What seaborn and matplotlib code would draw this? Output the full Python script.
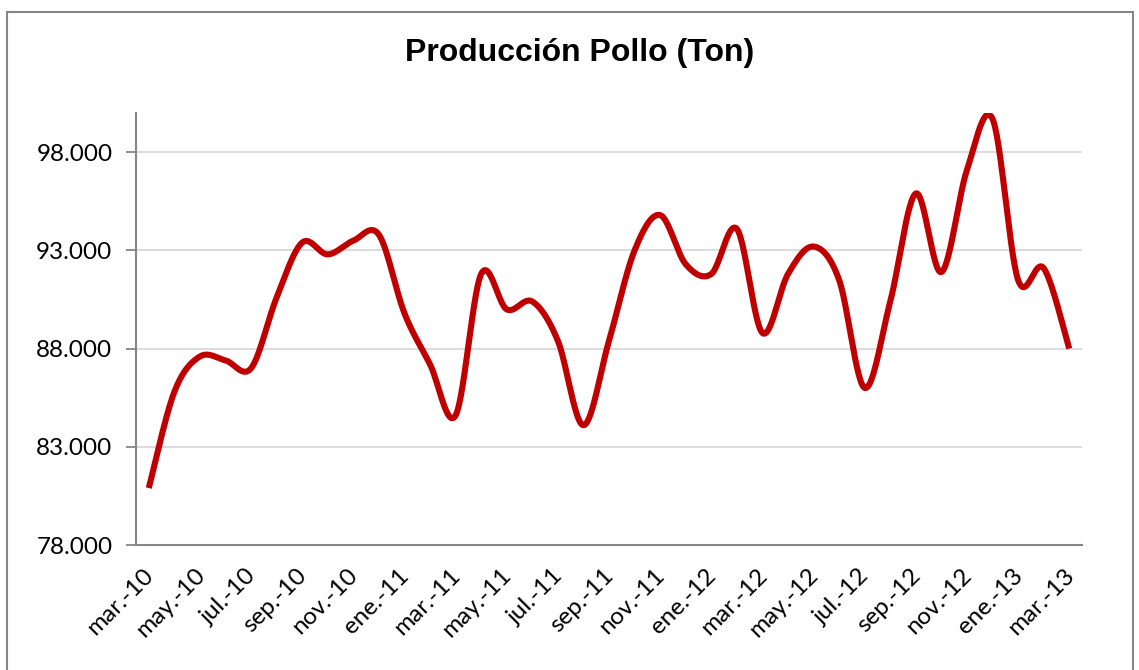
import numpy as np
import pandas as pd
import matplotlib
matplotlib.use("Agg")
import matplotlib.pyplot as plt
import seaborn as sns
from matplotlib.ticker import FuncFormatter, FixedLocator
from matplotlib.patches import Rectangle
from matplotlib.transforms import ScaledTranslation

# ---- data ----
months = ["mar.-10", "abr.-10", "may.-10", "jun.-10", "jul.-10", "ago.-10", "sep.-10", "oct.-10",
          "nov.-10", "dic.-10", "ene.-11", "feb.-11", "mar.-11", "abr.-11", "may.-11", "jun.-11",
          "jul.-11", "ago.-11", "sep.-11", "oct.-11", "nov.-11", "dic.-11", "ene.-12", "feb.-12",
          "mar.-12", "abr.-12", "may.-12", "jun.-12", "jul.-12", "ago.-12", "sep.-12", "oct.-12",
          "nov.-12", "dic.-12", "ene.-13", "feb.-13", "mar.-13"]
produccion = [80900, 85800, 87600, 87400, 87000, 90600, 93400, 92800,
              93500, 93800, 89800, 87200, 84600, 91800, 90000, 90400,
              88400, 84100, 88400, 93000, 94800, 92300, 91800, 94100,
              88800, 91800, 93200, 91500, 86000, 90400, 95900, 91900,
              97100, 99700, 91500, 92100, 88000]
y_ticks = [78000, 83000, 88000, 93000, 98000]
title = "Producción Pollo (Ton)"

# ---- smoothed curve (Excel-like Catmull-Rom Bezier through the data points) ----
x = np.arange(len(produccion), dtype=float)
y = np.array(produccion, dtype=float)
xs, ys = [], []
n = len(x)
t = np.linspace(0, 1, 30)
for i in range(n - 1):
    p0 = np.array([x[max(i - 1, 0)], y[max(i - 1, 0)]])
    p1 = np.array([x[i], y[i]])
    p2 = np.array([x[i + 1], y[i + 1]])
    p3 = np.array([x[min(i + 2, n - 1)], y[min(i + 2, n - 1)]])
    c1 = p1 + (p2 - p0) / 6.0
    c2 = p2 - (p3 - p1) / 6.0
    b = ((1 - t) ** 3)[:, None] * p1 + (3 * (1 - t) ** 2 * t)[:, None] * c1 \
        + (3 * (1 - t) * t ** 2)[:, None] * c2 + (t ** 3)[:, None] * p2
    xs.extend(b[:, 0]); ys.extend(b[:, 1])
curve = pd.DataFrame({"x": xs, "y": ys})

# ---- figure ----
sns.set_theme(style="white")
plt.rcParams["font.family"] = ["Lato", "DejaVu Sans"]
plt.rcParams["text.color"] = "black"
plt.rcParams["xtick.labelcolor"] = "black"
plt.rcParams["ytick.labelcolor"] = "black"

fig = plt.figure(figsize=(11.39, 6.70), dpi=100)
ax = fig.add_axes([136 / 1139, 1 - 545 / 670, (1082 - 136) / 1139, (545 - 113) / 670])

sns.lineplot(data=curve, x="x", y="y", ax=ax, color="#C00000", linewidth=4.4,
             sort=False, estimator=None, solid_capstyle="butt")

ax.set_xlim(-0.5, n - 0.5)
ax.set_ylim(78000, 100000)
ax.set_xlabel("")
ax.set_ylabel("")

ax.yaxis.set_major_locator(FixedLocator(y_ticks))
ax.yaxis.set_major_formatter(FuncFormatter(lambda v, p: f"{int(v):,}".replace(",", ".")))
for v in y_ticks[1:]:
    ax.axhline(v, color="#D9D9D9", linewidth=1.3, zorder=0)

label_pos = list(range(0, n, 2))
ax.set_xticks(label_pos)
ax.set_xticklabels([months[i] for i in label_pos], rotation=45, ha="right",
                   rotation_mode="anchor", fontsize=17.5, color="black")
ax.set_xticks(np.arange(-0.5, n, 1.0), minor=True)
ax.tick_params(axis="x", which="major", length=0, pad=14)
ax.tick_params(axis="x", which="minor", length=7, width=1.3, color="#868686", direction="out")
ax.tick_params(axis="y", which="major", length=7, width=1.3, color="#868686",
               direction="out", labelsize=17.5, pad=10, left=True)
shift = ScaledTranslation(-6 / 100, 0, fig.dpi_scale_trans)
for lab in ax.get_xticklabels():
    lab.set_transform(lab.get_transform() + shift)

for s in ["top", "right"]:
    ax.spines[s].set_visible(False)
for s in ["left", "bottom"]:
    ax.spines[s].set_color("#868686")
    ax.spines[s].set_linewidth(1.5)

fig.text(580 / 1139, 1 - 53 / 670, title, ha="center", va="center", color="black",
         fontsize=23, fontweight="bold", family=["Liberation Sans", "DejaVu Sans"])

fig.patches.append(Rectangle((6.5 / 1139, -0.05), (1133 - 6.5) / 1139, 1.05 - 11.5 / 670,
                             transform=fig.transFigure, fill=False,
                             edgecolor="#868686", linewidth=1.5))

fig.savefig("out.png", dpi=100, facecolor="white")
